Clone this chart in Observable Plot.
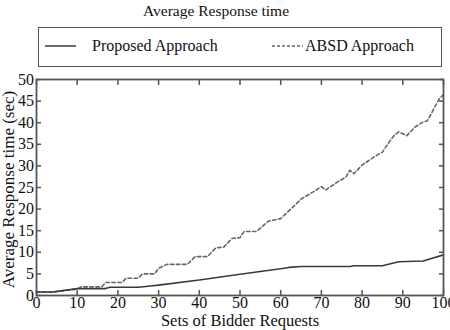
<!DOCTYPE html>
<html>
<head>
<meta charset="utf-8">
<script src="https://cdn.jsdelivr.net/npm/d3@7"></script>
<script src="https://cdn.jsdelivr.net/npm/@observablehq/plot@0.6"></script>
<style>
  html, body { margin: 0; padding: 0; background: #fff; }
  #wrap { position: relative; width: 450px; height: 330px; font-family: "Liberation Serif", "Times New Roman", serif; color: #111; overflow: hidden; }
  #title { position: absolute; left: 0; width: 432px; top: 2px; text-align: center; font-size: 15.5px; }
  #legend { position: absolute; left: 38px; top: 27px; width: 402px; height: 38px; border: 1.5px solid #555; box-sizing: content-box; }
  .item { position: absolute; top: 9px; font-size: 16px; display: flex; align-items: center; }
  .item svg { margin-right: 16px; }
  #chart { position: absolute; left: 0; top: 70px; }
  #chart svg, #chart svg text { font-family: "Liberation Serif", "Times New Roman", serif !important; }
  #chart svg { overflow: visible; }
</style>
</head>
<body>
<div id="wrap">
  <div id="title">Average Response time</div>
  <div id="legend"></div>
  <div id="chart"></div>
</div>
<script>
// ---- data ----
const seriesNames = ["Proposed Approach", "ABSD Approach"];
const proposedX = [0, 4, 10, 17, 18, 25, 28, 30, 40, 50, 60, 62, 65, 77, 78, 85, 89, 95, 96, 100];
const proposedY = [0.8, 0.8, 1.6, 1.6, 1.9, 1.9, 2.2, 2.4, 3.6, 4.9, 6.2, 6.5, 6.7, 6.7, 6.9, 6.9, 7.8, 8.0, 8.3, 9.4];
const absdX = [0, 4, 10, 11, 16, 17, 21, 22, 25, 26, 29, 30, 32, 33, 37, 39, 42, 44, 46, 48, 50, 51, 54, 57, 60, 62, 65, 68, 70, 71, 74, 76, 77, 78, 80, 83, 85, 87, 88, 89, 91, 93, 95, 96, 97, 99, 100];
const absdY = [0.8, 0.8, 1.5, 2.0, 2.0, 3.0, 3.0, 4.0, 4.0, 5.0, 5.0, 6.3, 7.2, 7.2, 7.2, 9.0, 9.0, 11.0, 11.2, 13.2, 13.4, 14.8, 14.8, 17.2, 17.8, 19.6, 22.3, 24.0, 25.2, 24.4, 26.3, 27.4, 29.0, 28.2, 30.2, 32.1, 33.2, 36.0, 37.2, 37.9, 37.0, 39.0, 40.2, 40.4, 42.1, 45.6, 46.5];
const xTicks = [0, 10, 20, 30, 40, 50, 60, 70, 80, 90, 100];
const yTicks = [0, 5, 10, 15, 20, 25, 30, 35, 40, 45, 50];
const xLabel = "Sets of Bidder Requests";
const yLabel = "Average Response time (sec)";

const proposed = proposedX.map((x, i) => ({x, y: proposedY[i]}));
const absd = absdX.map((x, i) => ({x, y: absdY[i]}));

const solidColor = "#3a3a3a";
const dashColor = "#666";

// legend
const legend = document.getElementById("legend");
const legendItems = [
  {name: seriesNames[0], color: solidColor, dash: null, left: 6},
  {name: seriesNames[1], color: dashColor, dash: "3,2", left: 233}
];
legendItems.forEach(it => {
  const d = document.createElement("div");
  d.className = "item";
  d.style.left = it.left + "px";
  d.innerHTML = `<svg width="31" height="6"><line x1="0" x2="31" y1="3" y2="3" stroke="${it.color}" stroke-width="1.5" ${it.dash ? `stroke-dasharray="${it.dash}"` : ""}/></svg><span>${it.name}</span>`;
  if (it.dash) d.querySelector("svg").style.marginRight = "2px";
  legend.appendChild(d);
});

const chart = Plot.plot({
  width: 450,
  height: 260,
  marginLeft: 36,
  marginRight: 7,
  marginTop: 9,
  marginBottom: 35,
  style: {fontSize: "16px", color: "#111", background: "#fff"},
  x: {domain: [0, 100]},
  y: {domain: [0, 50]},
  marks: [
    Plot.axisX({anchor: "bottom", ticks: xTicks, tickSize: -5, tickPadding: 6, label: null, tickFormat: d => String(d), stroke: "#555", strokeWidth: 1.5}),
    Plot.axisX({anchor: "top", ticks: xTicks, tickSize: -5, label: null, tickFormat: () => "", stroke: "#555", strokeWidth: 1.5}),
    Plot.axisY({anchor: "left", ticks: yTicks, tickSize: -5, tickPadding: 7.5, label: null, tickFormat: d => String(d), stroke: "#555", strokeWidth: 1.5}),
    Plot.axisY({anchor: "right", ticks: yTicks, tickSize: -5, label: null, tickFormat: () => "", stroke: "#555", strokeWidth: 1.5}),
    Plot.line(absd, {x: "x", y: "y", stroke: dashColor, strokeWidth: 1.6, strokeDasharray: "3.5,2.5"}),
    Plot.line(proposed, {x: "x", y: "y", stroke: solidColor, strokeWidth: 1.6}),
    Plot.frame({stroke: "#555", strokeWidth: 1.8}),
    Plot.text([xLabel], {frameAnchor: "bottom", dy: 25.5, fontSize: 16.5, lineAnchor: "middle", textAnchor: "middle", fill: "#111"}),
    Plot.text([yLabel], {frameAnchor: "left", dx: -27.5, dy: 2, rotate: -90, fontSize: 17, textAnchor: "middle", fill: "#111"})
  ]
});
document.getElementById("chart").appendChild(chart);
</script>
</body>
</html>
